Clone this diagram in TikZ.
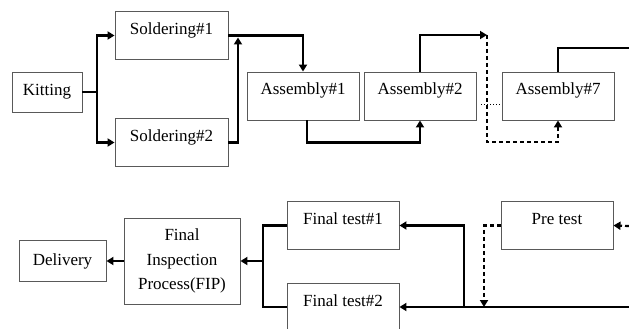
\documentclass[tikz,border=0pt]{standalone}
\usepackage{fontspec}
\setmainfont{Liberation Serif}
\usetikzlibrary{arrows.meta}

\begin{document}
\begin{tikzpicture}[x=1pt,y=-1pt,
  every node/.style={font=\fontsize{17}{24.5}\selectfont},
  box/.style={draw=black!65,line width=0.9pt,inner sep=0pt,align=center},
  upbox/.style={box,minimum width=112pt,text height=23pt,text depth=25pt},
  flow/.style={line width=2.2pt,-{Triangle[length=7pt,width=8pt]}},
  dflow/.style={flow,dash pattern=on 4pt off 3pt}]
  \useasboundingbox (0,0) rectangle (629,329);
  % upper line: kitting, soldering, assembly
  \node[box,minimum width=70pt,minimum height=40pt] (kit) at (47,92) {Kitting};
  \node[upbox,minimum width=113pt] (sold1) at (171.5,35.5) {Soldering\#1};
  \node[upbox,minimum width=113pt] (sold2) at (171.5,142.5) {Soldering\#2};
  \node[upbox] (asm1) at (303,96) {Assembly\#1};
  \node[upbox] (asm2) at (420,96) {Assembly\#2};
  \node[upbox] (asm7) at (558,96) {Assembly\#7};
  % lower line: tests, inspection, delivery
  \node[upbox] (pre) at (557,225.5) {Pre test};
  \node[upbox] (ft1) at (343,225.5) {Final test\#1};
  \node[upbox] (ft2) at (343,307) {Final test\#2};
  \node[box,minimum width=116pt,minimum height=86pt] (fip) at (182,261) {Final\\Inspection\\Process(FIP)};
  \node[box,minimum width=87pt,minimum height=41pt] (del) at (62.5,261) {Delivery};

  \coordinate (split) at (97,92);
  \coordinate (merge) at (238,37.5);
  \coordinate (gap) at (487,35);
  \coordinate (gapb) at (487,142);
  \coordinate (dots) at (481,104);
  \coordinate (out7) at (629,48);
  \draw[flow] (kit.east) -- (split) |- (sold1.west);
  \draw[flow] (split) |- (sold2.west);
  \draw[flow] (sold1.east) -| (asm1.north);
  \draw[flow] (sold2.east) -| (merge);
  \draw[flow] ([xshift=4pt]asm1.south) -- ++(0,22) -| (asm2.south);
  \draw[flow] (asm2.north) |- (gap);
  \draw[dflow] (gap) -- (gapb) -| (asm7.south);
  \draw[dotted,line width=1pt] (dots) -- (dots -| asm7.west);
  \draw[line width=2.2pt] (asm7.north) |- (out7);

  \coordinate (inpre) at (629,226);
  \coordinate (drop) at (484,307);
  \coordinate (inft) at (629,307);
  \coordinate (rise) at (464,307);
  \coordinate (join) at (263,261);
  \draw[dflow] (inpre) -- (pre.east);
  \draw[dflow] (pre.west) -| (drop);
  \draw[flow] (inft) -- (ft2.east);
  \draw[flow] (rise) |- (ft1.east);
  \draw[line width=2.2pt] (ft1.west) -| (join) |- (ft2.west);
  \draw[flow] (join) -- (fip.east);
  \draw[flow] (fip.west) -- (del.east);
\end{tikzpicture}
\end{document}
